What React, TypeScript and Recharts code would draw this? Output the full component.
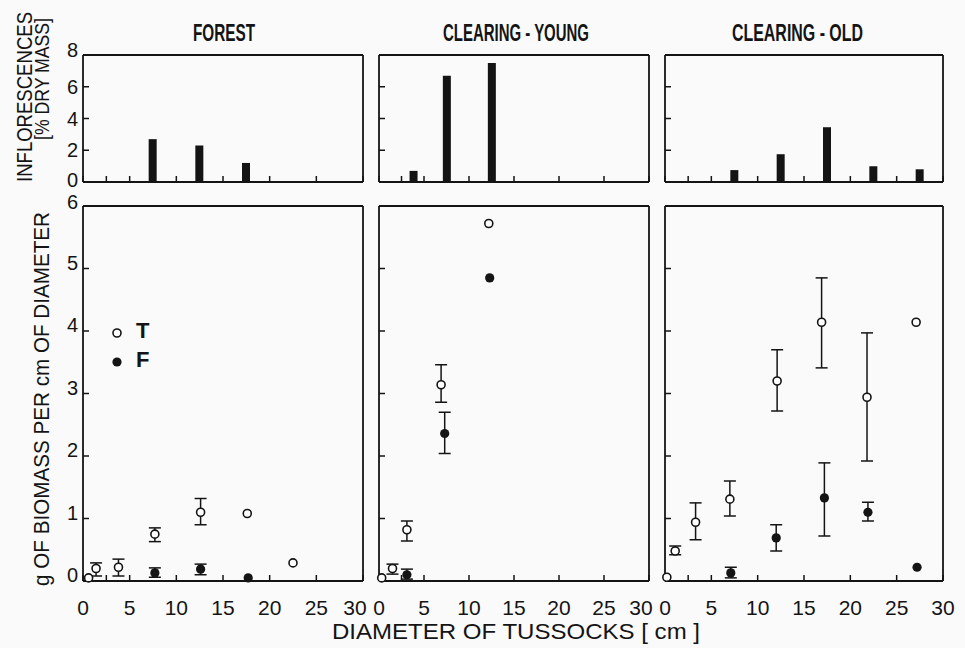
import React from "react"
import {
  Bar,
  ComposedChart,
  ErrorBar,
  ReferenceLine,
  Scatter,
  ScatterChart,
  XAxis,
  YAxis,
} from "recharts"

const xTicks = [0, 2.5, 5, 10, 15, 20, 25, 30]
const inflTicks = [0, 2, 4, 6, 8]
const massTicks = [0, 1, 2, 3, 4, 5, 6]
const panelTitles = ["FOREST", "CLEARING - YOUNG", "CLEARING - OLD"]

// inflorescences [% dry mass] per tussock diameter class
const forestInflX = [7.5, 12.5, 17.5]
const forestInflPct = [2.7, 2.3, 1.2]
const youngInflX = [3.8, 7.5, 12.5]
const youngInflPct = [0.7, 6.7, 7.5]
const oldInflX = [7.5, 12.5, 17.5, 22.5, 27.5]
const oldInflPct = [0.75, 1.75, 3.45, 1.0, 0.8]

// g of biomass per cm of diameter; T = open, F = filled; lo/hi = error below/above
const forestTX = [0.6, 1.4, 3.8, 7.7, 12.6, 17.6, 22.5]
const forestTY = [0.05, 0.2, 0.22, 0.75, 1.1, 1.08, 0.29]
const forestTLo = [null, 0.12, 0.14, 0.12, 0.2, null, null]
const forestTHi = [null, 0.09, 0.13, 0.1, 0.22, null, null]
const forestFX = [7.7, 12.6, 17.7]
const forestFY = [0.13, 0.19, 0.05]
const forestFLo = [0.07, 0.09, null]
const forestFHi = [0.08, 0.08, null]

const youngTX = [0.3, 1.5, 3.1, 6.9, 12.2]
const youngTY = [0.05, 0.2, 0.82, 3.14, 5.72]
const youngTLo = [null, 0.09, 0.18, 0.28, null]
const youngTHi = [null, 0.07, 0.14, 0.32, null]
const youngFX = [3.1, 7.3, 12.3]
const youngFY = [0.1, 2.36, 4.85]
const youngFLo = [0.07, 0.32, null]
const youngFHi = [0.09, 0.34, null]

const oldTX = [0.2, 1.1, 3.3, 7.0, 12.1, 16.9, 21.8, 27.1]
const oldTY = [0.06, 0.48, 0.94, 1.31, 3.2, 4.14, 2.94, 4.14]
const oldTLo = [null, 0.06, 0.28, 0.27, 0.48, 0.73, 1.02, null]
const oldTHi = [null, 0.08, 0.31, 0.29, 0.5, 0.71, 1.03, null]
const oldFX = [7.1, 12.0, 17.2, 21.9, 27.2]
const oldFY = [0.13, 0.69, 1.33, 1.1, 0.22]
const oldFLo = [0.08, 0.21, 0.61, 0.14, null]
const oldFHi = [0.09, 0.21, 0.56, 0.16, null]

const INK = "#141414"
const TICK_FONT = "'Liberation Sans', Arial, sans-serif"

// plot boxes in page pixels
const panels = [
  { L: 83, R: 363 },
  { L: 379, R: 649 },
  { L: 665, R: 943 },
]
const TOP_T = 55
const TOP_B = 182
const BOT_T = 206
const BOT_B = 581
const PAD_L = 50
const PAD_T = 20
const PAD_R = 20
const PAD_B = 40

const bars = (xs: number[], vs: number[]) => xs.map((x, i) => ({ x, v: vs[i] }))
const points = (
  xs: number[],
  ys: number[],
  lo: (number | null)[],
  hi: (number | null)[]
) =>
  xs.map((x, i) => ({
    x,
    y: ys[i],
    err: lo[i] != null ? [lo[i], hi[i]] : undefined,
  }))

const inflData = [
  bars(forestInflX, forestInflPct),
  bars(youngInflX, youngInflPct),
  bars(oldInflX, oldInflPct),
]
const tData = [
  points(forestTX, forestTY, forestTLo, forestTHi),
  points(youngTX, youngTY, youngTLo, youngTHi),
  points(oldTX, oldTY, oldTLo, oldTHi),
]
const fData = [
  points(forestFX, forestFY, forestFLo, forestFHi),
  points(youngFX, youngFY, youngFLo, youngFHi),
  points(oldFX, oldFY, oldFLo, oldFHi),
]

const openDot = (p: any) => (
  <circle cx={p.cx} cy={p.cy} r={4} fill="#fff" stroke={INK} strokeWidth={1.6} />
)
const filledDot = (p: any) => <circle cx={p.cx} cy={p.cy} r={4.6} fill={INK} />

function xTick(p: any, showLabels: boolean, shiftLast: boolean) {
  const v = p.payload.value
  if (!showLabels || v === 2.5) return <g />
  const dx = shiftLast && v === 30 ? -8 : 0
  return (
    <text
      x={p.x + dx}
      y={p.y + 26}
      textAnchor="middle"
      dominantBaseline="central"
      fontSize={21}
      fontFamily={TICK_FONT}
      fill={INK}
    >
      {v}
    </text>
  )
}

function yTick(p: any, showLabels: boolean, dy: (v: number) => number) {
  if (!showLabels) return <g />
  const v = p.payload.value
  return (
    <text
      x={p.x - 5}
      y={p.y + dy(v)}
      textAnchor="end"
      dominantBaseline="central"
      fontSize={20}
      fontFamily={TICK_FONT}
      fill={INK}
    >
      {v}
    </text>
  )
}

const axisLine = { stroke: INK, strokeWidth: 1.8 }
const tickLine = { stroke: INK, strokeWidth: 1.5 }

function InflPanel({ i }: { i: number }) {
  const { L, R } = panels[i]
  const w = R - L + PAD_L + PAD_R
  const h = TOP_B - TOP_T + PAD_T + PAD_B
  return (
    <div style={{ position: "absolute", left: L - PAD_L, top: TOP_T - PAD_T }}>
      <ComposedChart
        width={w}
        height={h}
        data={inflData[i]}
        margin={{ top: PAD_T, right: PAD_R, bottom: 0, left: 0 }}
      >
        <XAxis
          dataKey="x"
          type="number"
          domain={[0, 30]}
          ticks={xTicks}
          interval={0}
          height={PAD_B}
          axisLine={axisLine}
          tickLine={tickLine}
          tickSize={-6}
          tickMargin={6}
          tick={(p: any) => xTick(p, false, false)}
        />
        <YAxis
          type="number"
          domain={[0, 8]}
          ticks={inflTicks}
          interval={0}
          width={PAD_L}
          axisLine={axisLine}
          tickLine={tickLine}
          tickSize={-6}
          tickMargin={6}
          tick={(p: any) => yTick(p, i === 0, (v) => (v === 8 ? -5 : v === 0 ? -2 : 0))}
        />
        <ReferenceLine y={8} stroke={INK} strokeWidth={1.8} />
        <ReferenceLine x={30} stroke={INK} strokeWidth={1.8} />
        <Bar dataKey="v" barSize={8} fill={INK} isAnimationActive={false} />
      </ComposedChart>
    </div>
  )
}

function MassPanel({ i }: { i: number }) {
  const { L, R } = panels[i]
  const w = R - L + PAD_L + PAD_R
  const h = BOT_B - BOT_T + PAD_T + PAD_B
  return (
    <div style={{ position: "absolute", left: L - PAD_L, top: BOT_T - PAD_T }}>
      <ScatterChart
        width={w}
        height={h}
        margin={{ top: PAD_T, right: PAD_R, bottom: 0, left: 0 }}
      >
        <XAxis
          dataKey="x"
          type="number"
          domain={[0, 30]}
          ticks={xTicks}
          interval={0}
          height={PAD_B}
          axisLine={axisLine}
          tickLine={tickLine}
          tickSize={-6}
          tickMargin={6}
          tick={(p: any) => xTick(p, true, i < 2)}
        />
        <YAxis
          dataKey="y"
          type="number"
          domain={[0, 6]}
          ticks={massTicks}
          interval={0}
          width={PAD_L}
          axisLine={axisLine}
          tickLine={tickLine}
          tickSize={-6}
          tickMargin={6}
          tick={(p: any) => yTick(p, i === 0, (v) => (v === 6 ? -4 : -6))}
        />
        <ReferenceLine y={6} stroke={INK} strokeWidth={1.8} />
        <ReferenceLine x={30} stroke={INK} strokeWidth={1.8} />
        <Scatter name="T" data={tData[i]} shape={openDot} isAnimationActive={false}>
          <ErrorBar dataKey="err" direction="y" width={6} stroke={INK} strokeWidth={1.5} />
        </Scatter>
        <Scatter name="F" data={fData[i]} shape={filledDot} isAnimationActive={false}>
          <ErrorBar dataKey="err" direction="y" width={6} stroke={INK} strokeWidth={1.5} />
        </Scatter>
      </ScatterChart>
    </div>
  )
}

const titleSpans = [
  { x1: 193, x2: 255 },
  { x1: 443, x2: 589 },
  { x1: 732, x2: 863 },
]

function Labels() {
  const label = { fill: INK, fontFamily: TICK_FONT }
  return (
    <svg
      width={965}
      height={648}
      style={{ position: "absolute", left: 0, top: 0, pointerEvents: "none" }}
    >
      {panelTitles.map((t, i) => (
        <text
          key={t}
          x={titleSpans[i].x1}
          y={41}
          fontSize={23}
          fontWeight="bold"
          textLength={titleSpans[i].x2 - titleSpans[i].x1}
          lengthAdjust="spacingAndGlyphs"
          {...label}
        >
          {t}
        </text>
      ))}
      <text
        transform="translate(24,97) rotate(-90) scale(1,1.2)"
        textAnchor="middle"
        dominantBaseline="central"
        fontSize={18.5}
        textLength={170}
        lengthAdjust="spacingAndGlyphs"
        {...label}
      >
        INFLORESCENCES
      </text>
      <text
        transform="translate(42,79) rotate(-90) scale(1,1.2)"
        textAnchor="middle"
        dominantBaseline="central"
        fontSize={17.5}
        textLength={122}
        lengthAdjust="spacingAndGlyphs"
        {...label}
      >
        [% DRY MASS]
      </text>
      <text
        transform="translate(41,399) rotate(-90)"
        textAnchor="middle"
        dominantBaseline="central"
        fontSize={22}
        textLength={374}
        lengthAdjust="spacingAndGlyphs"
        {...label}
      >
        g OF BIOMASS PER cm OF DIAMETER
      </text>
      <text
        x={332}
        y={639}
        fontSize={22}
        textLength={368}
        lengthAdjust="spacingAndGlyphs"
        {...label}
      >
        DIAMETER OF TUSSOCKS [ cm ]
      </text>
      {/* legend */}
      <circle cx={117} cy={333} r={4} fill="#fff" stroke={INK} strokeWidth={1.6} />
      <text x={136} y={338} fontSize={22} fontWeight="bold" {...label}>
        T
      </text>
      <circle cx={117} cy={362} r={4.6} fill={INK} />
      <text x={136} y={367} fontSize={22} fontWeight="bold" {...label}>
        F
      </text>
    </svg>
  )
}

export default function App() {
  return (
    <div
      style={{
        position: "absolute",
        left: 0,
        top: 0,
        width: 965,
        height: 648,
        background: "#fafafa",
        overflow: "hidden",
      }}
    >
      {panels.map((_, i) => (
        <InflPanel key={`infl-${i}`} i={i} />
      ))}
      {panels.map((_, i) => (
        <MassPanel key={`mass-${i}`} i={i} />
      ))}
      <Labels />
    </div>
  )
}
